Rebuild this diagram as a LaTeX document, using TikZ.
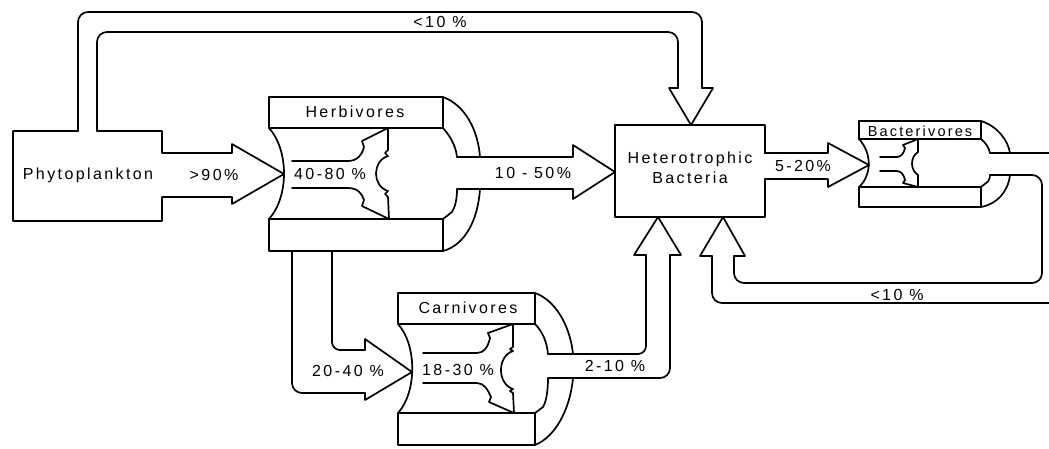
\documentclass[tikz,border=0pt]{standalone}
\usepackage{fontspec}
\newfontfamily\labfont[LetterSpace=15]{Liberation Sans}
\begin{document}
\begin{tikzpicture}[x=1pt,y=-1pt,
  ln/.style={line width=1.7pt, line join=round, line cap=round},
  rc/.style={ln, rounded corners=10pt},
  lab/.style={font=\labfont\fontsize{16}{18}\selectfont, inner sep=0pt},
  slab/.style={font=\labfont\fontsize{14.5}{16}\selectfont, inner sep=0pt}]
\useasboundingbox (0,0) rectangle (1049,448);

% Phytoplankton and top bypass to bacteria
\draw[rc] (78,131) -- (78,12) -- (702,12) -- (702,88);
\draw[ln] (702,88) -- (713,88) -- (691,125) -- (669,88) -- (678,88);
\draw[rc] (678,88) -- (678,32) -- (97,32) -- (97,131);
\draw[ln] (97,131) -- (162,131) -- (162,153) -- (232,153) -- (232,144) -- (284,174) -- (232,204) -- (232,197) -- (162,197) -- (162,221) -- (13,221) -- (13,131) -- (78,131);

% Herbivores
\draw[ln] (269,97) rectangle (443,128);
\draw[ln] (269,219) rectangle (443,251);
\draw[ln] (269,128) .. controls (289,150) and (289,197) .. (269,219);
\draw[ln] (443,97) .. controls (465,105) and (478,130) .. (480,157);
\draw[ln] (480,189) .. controls (478,220) and (465,245) .. (443,251);
\draw[ln] (443,128) .. controls (452,138) and (456,148) .. (457,157);
\draw[ln] (457,189) .. controls (457,200) and (455,207) .. (452,212) -- (443,219);
\draw[ln] (457,157) -- (573,157) -- (573,145) -- (615,172) -- (573,199) -- (573,189) -- (457,189);
\draw[ln] (292,161) -- (348,161) .. controls (357,161) and (362,155) .. (364,147) -- (362,141) -- (388,128) -- (388,150) -- (385,153) -- (388,156) .. controls (372,161) and (372,186) .. (388,191) -- (385,194) -- (388,197) -- (389,219) -- (362,206) -- (364,200) .. controls (362,193) and (357,188) .. (348,188) -- (292,188);

% Herbivores to Carnivores
\draw[rc] (292,251) -- (292,393) -- (365,393);
\draw[ln] (365,393) -- (365,400) -- (412,372) -- (365,339) -- (365,350);
\draw[ln, rounded corners=8pt] (365,350) -- (332,350) -- (332,251);

% Carnivores
\draw[ln] (398,293) rectangle (535,324);
\draw[ln] (398,413) rectangle (535,445);
\draw[ln] (398,324) .. controls (417,345) and (417,392) .. (398,413);
\draw[ln] (535,293) .. controls (555,300) and (570,325) .. (573,354);
\draw[ln] (573,378) .. controls (570,410) and (555,437) .. (535,445);
\draw[ln] (535,324) .. controls (543,332) and (547,343) .. (548,354);
\draw[ln] (548,378) .. controls (548,392) and (546,402) .. (543,407) -- (535,413);
\draw[ln, rounded corners=8pt] (548,354) -- (646,354) -- (646,255);
\draw[ln] (646,255) -- (634,255) -- (658,217) -- (681,255) -- (670,255);
\draw[rc] (670,255) -- (670,378) -- (548,378);
\draw[ln] (423,353) -- (477,353) .. controls (484,353) and (488,347) .. (490,338) -- (488,333) -- (513,324) -- (513,347) -- (510,349) -- (513,351) .. controls (497,356) and (497,384) .. (513,389) -- (510,391) -- (513,393) -- (514,413) -- (489,402) -- (491,397) .. controls (488,390) and (484,383) .. (477,383) -- (423,383);

% Heterotrophic bacteria
\draw[ln] (765,153) -- (765,125) -- (615,125) -- (615,217) -- (765,217) -- (765,179);
\draw[ln] (765,153) -- (828,153) -- (828,143) -- (869,165) -- (828,187) -- (828,179) -- (765,179);

% Bacterivores
\draw[ln] (859,121) rectangle (981,139);
\draw[ln] (859,187) rectangle (981,207);
\draw[ln] (859,139) .. controls (872,153) and (872,175) .. (859,187);
\draw[ln] (981,121) .. controls (997,126) and (1008,140) .. (1010,153);
\draw[ln] (1010,175) .. controls (1008,192) and (997,204) .. (981,207);
\draw[ln] (981,139) .. controls (986,143) and (989,148) .. (990,153);
\draw[ln] (990,175) .. controls (990,179) and (988,182) .. (986,183) -- (981,187);
\draw[ln] (880,157) -- (897,157) .. controls (901,157) and (904,153) .. (905,148) -- (903,145) -- (918,139) -- (918,152) .. controls (910,157) and (910,170) .. (918,175) -- (918,187) -- (903,183) -- (905,180) .. controls (904,175) and (901,171) .. (897,171) -- (880,171);
\draw[ln] (990,153) -- (1049,153);
\draw[rc] (990,175) -- (1042,175) -- (1042,283) -- (734,283) -- (734,256);
\draw[ln] (734,256) -- (745,256) -- (723,217) -- (700,256) -- (712,256);
\draw[rc] (712,256) -- (712,303) -- (1049,303);

% labels
\node[lab] (phyto) at (88,175) {Phytoplankton};
\node[lab] (p90) at (214,175) {>90\%};
\node[lab] (herb) at (355,112) {Herbivores};
\node[lab] (p4080) at (330,174) {40-80 \%};
\node[lab] (p1050) at (533,173) {10 - 50\%};
\node[lab, align=center] (hetero) at (690,168) {Heterotrophic\\[2pt]Bacteria};
\node[lab] (p520) at (803,166) {5-20\%};
\node[slab] (bact) at (920,131) {Bacterivores};
\node[lab] (carn) at (468,308) {Carnivores};
\node[lab] (p2040) at (348,371) {20-40 \%};
\node[lab] (p1830) at (458,370) {18-30 \%};
\node[lab] (p210) at (615,366) {2-10 \%};
\node[lab] (top10) at (440,22) {<10 \%};
\node[lab] (bot10) at (897,295) {<10 \%};
\end{tikzpicture}
\end{document}
